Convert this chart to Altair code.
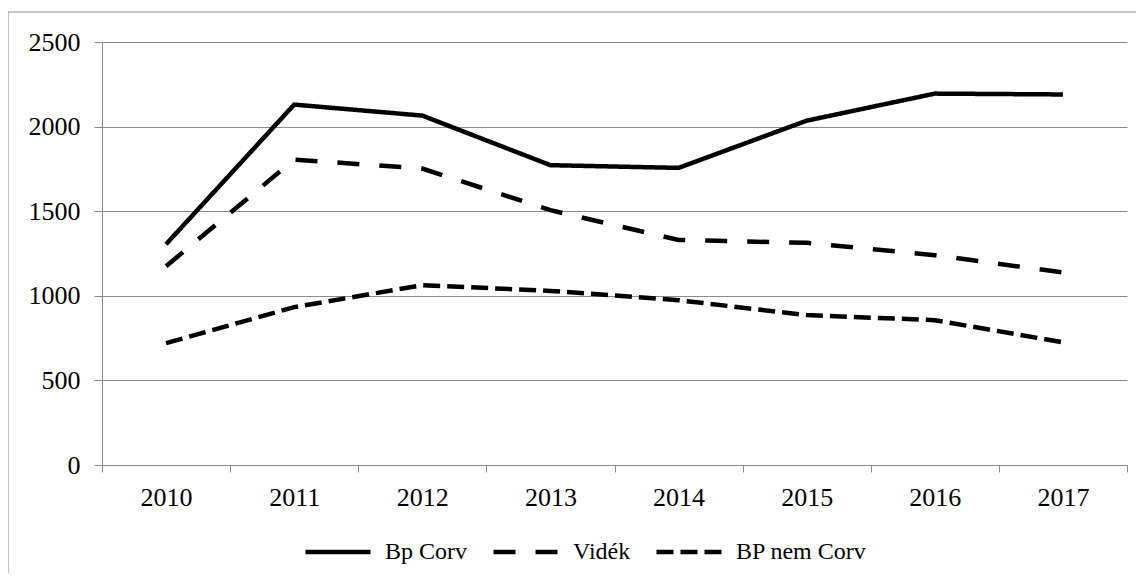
import altair as alt
import pandas as pd

years = ["2010", "2011", "2012", "2013", "2014", "2015", "2016", "2017"]
bp_corv = [1305, 2130, 2065, 1772, 1756, 2035, 2195, 2190]
videk = [1175, 1805, 1752, 1506, 1330, 1313, 1240, 1138]
bp_nem_corv = [720, 933, 1063, 1029, 974, 886, 856, 725]
series_names = ["Bp Corv", "Vidék", "BP nem Corv"]

rows = []
for name, vals in zip(series_names, [bp_corv, videk, bp_nem_corv]):
    for y, v in zip(years, vals):
        rows.append({"year": y, "value": v, "series": name})
df = pd.DataFrame(rows)

FONT = "Liberation Serif"
GRAY = "#8a8a8a"

lines = alt.Chart(df).mark_line(color="black", strokeWidth=4.5, strokeCap="butt", strokeJoin="miter").encode(
    x=alt.X("year:O", bandPosition=0.5,
            scale=alt.Scale(type="band", paddingInner=0, paddingOuter=0),
            axis=alt.Axis(title=None, labelAngle=0, tickBand="extent", labelFontSize=26, labelFont=FONT,
                          labelColor="black", domainColor=GRAY, tickColor=GRAY, tickSize=7,
                          labelPadding=12, grid=False)),
    y=alt.Y("value:Q", scale=alt.Scale(domain=[0, 2500], nice=False),
            axis=alt.Axis(title=None, values=[0, 500, 1000, 1500, 2000, 2500], format="d",
                          labelFontSize=26, labelFont=FONT, labelColor="black", domainColor=GRAY,
                          tickColor=GRAY, tickSize=8, labelPadding=14, grid=True, gridColor=GRAY)),
    strokeDash=alt.StrokeDash("series:N",
                              scale=alt.Scale(domain=series_names, range=[[1, 0], [22, 20], [17, 7]]),
                              legend=alt.Legend(title=None, orient="none", direction="horizontal",
                                                legendX=201, legendY=475, symbolType="stroke",
                                                symbolSize=4225, symbolStrokeWidth=4.5,
                                                symbolStrokeColor="black", labelFont=FONT,
                                                labelFontSize=24, labelColor="black", labelOffset=12,
                                                columnPadding=16)),
    order=alt.Order("year:O"),
)

border = alt.Chart(pd.DataFrame({"a": [0]})).mark_rect(
    fill="transparent", stroke="#8a8a8a", strokeWidth=1
).encode(
    x=alt.value(-94), x2=alt.value(1200), y=alt.value(-30), y2=alt.value(700)
)

chart = alt.layer(border, lines).properties(
    width=1025, height=423,
    autosize=alt.AutoSizeParams(type="none"),
    padding={"left": 94, "top": 34, "right": 9, "bottom": 108},
).configure_view(stroke=None)

chart.save("out.html", embed_options={"renderer": "svg", "actions": False})
